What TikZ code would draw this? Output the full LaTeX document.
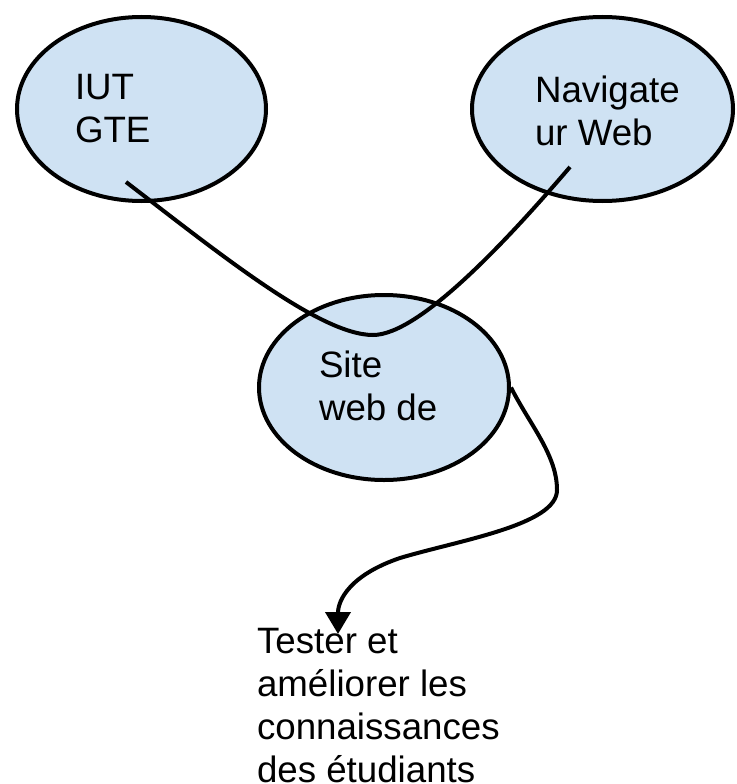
\documentclass[tikz,border=0pt]{standalone}
\usepackage{fontspec}
\setmainfont{Liberation Sans}
\usetikzlibrary{positioning, shapes.geometric, arrows.meta, calc}

\definecolor{bubble}{RGB}{207,226,243}

\begin{document}
\begin{tikzpicture}[
    x=1pt, y=-1pt,
    line width=4pt,
    arrow/.style={
        -{Triangle[width=25pt,length=22pt]},
        line width=4pt
    },
    bubble/.style={
        ellipse,
        fill=bubble,
        draw,
        inner sep=0pt,
        line width=4pt
    },
    label/.style={ % base anchor sits on the last line
        anchor=base west,
        inner sep=0pt,
        align=left,
        font=\fontsize{36.7}{43}\selectfont
    }
]
    \useasboundingbox (0,0) rectangle (736,784);

    % Bubbles
    \node[bubble, minimum width=249pt, minimum height=184pt] (iut) at (141.5,109) {};
    \node[bubble, minimum width=261pt, minimum height=184pt] (nav) at (602.5,109) {};
    \node[bubble, minimum width=250pt, minimum height=185pt] (site) at (384,387.5) {};

    % Texts
    \node[label] (iuttext) at (73,142) {IUT\\GTE};
    \node[label] (navtext) at (533,145) {Navigate\\ur Web};
    \node[label] (sitetext) at (317,420) {Site\\web de};
    \node[label] (goal) at (255,782) {Tester et\\améliorer les\\connaissances\\des étudiants};

    \coordinate (tip) at (338,634);

    % Link between the two upper bubbles
    \draw ($(iut.center)+(-15.5,73)$) .. controls (220,254) and (320,335) .. (373,335)
        .. controls (420,335) and (510,237) .. ($(nav.center)+(-32.5,58)$);

    % Site to goal
    \draw[arrow] (site.east) .. controls (530,425) and (557,455) .. (557,490)
        .. controls (557,525) and (460,540) .. (400,558)
        .. controls (350,575) and (338,600) .. (tip);
\end{tikzpicture}
\end{document}
